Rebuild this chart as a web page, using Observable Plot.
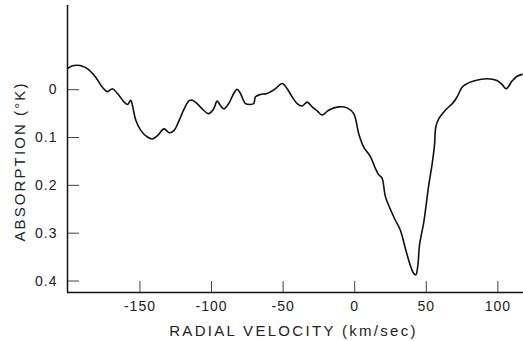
<!DOCTYPE html>
<html><head><meta charset="utf-8">
<script src="https://cdn.jsdelivr.net/npm/d3@7"></script>
<script src="https://cdn.jsdelivr.net/npm/@observablehq/plot@0.6"></script>
<style>
html,body{margin:0;padding:0;background:#fff;}
</style>
</head><body><div id="chart"></div>
<script>
const velocity = [-200.6,-197.1,-193.6,-190.2,-186.7,-180.9,-176.2,-172.7,-169.2,-165.7,-161.0,-158.7,-156.4,-155.2,-152.9,-149.4,-144.8,-141.3,-137.8,-133.1,-129.6,-126.1,-122.6,-119.1,-115.6,-113.3,-110.1,-106.6,-102.0,-98.5,-96.1,-93.8,-91.5,-88.0,-84.5,-82.1,-79.8,-76.3,-72.8,-70.5,-69.3,-65.9,-61.2,-55.4,-50.7,-47.2,-43.7,-40.2,-36.7,-33.2,-29.7,-26.3,-22.8,-18.2,-11.2,-5.3,-0.7,2.8,6.3,11.0,14.5,16.6,19.1,21.4,24.9,28.4,31.9,35.4,38.9,41.2,42.7,44.0,45.4,48.2,51.7,54.1,55.7,56.7,58.7,63.3,69.1,71.7,75.0,78.0,83.1,92.5,99.4,102.9,105.9,109.9,113.4,116.9];
const absorption = [-0.044,-0.050,-0.051,-0.049,-0.044,-0.026,-0.005,0.004,-0.002,0.008,0.026,0.031,0.022,0.033,0.064,0.085,0.099,0.103,0.096,0.082,0.090,0.085,0.064,0.040,0.023,0.022,0.029,0.040,0.050,0.040,0.024,0.033,0.040,0.029,0.008,-0.001,0.008,0.029,0.031,0.029,0.015,0.010,0.008,-0.002,-0.013,-0.002,0.015,0.029,0.034,0.026,0.036,0.044,0.053,0.043,0.036,0.038,0.050,0.092,0.120,0.140,0.165,0.177,0.185,0.223,0.250,0.273,0.294,0.332,0.368,0.384,0.387,0.370,0.322,0.278,0.200,0.155,0.117,0.077,0.061,0.043,0.026,0.014,-0.005,-0.012,-0.018,-0.023,-0.019,-0.011,-0.002,-0.018,-0.028,-0.032];
const xTicks = [-150,-100,-50,0,50,100];
const xTickLabels = ["-150","-100","-50","0","50","100"];
const yTicks = [0,0.1,0.2,0.3,0.4];
const yTickLabels = ["0","0.1","0.2","0.3","0.4"];
const xLabel = "RADIAL VELOCITY (km/sec)";
const yLabel = "ABSORPTION (°K)";

const data = velocity.map((v, i) => ({v, a: absorption[i]}));
const xDomain = [-200.6, 117.9];
const yDomain = [0.424, -0.176];
const tickLenX = 8.4;   // km/s, ~12px
const tickLenY = 0.023; // K, ~11px

const chart = Plot.plot({
  width: 523, height: 341,
  marginLeft: 67, marginRight: 0, marginTop: 5, marginBottom: 49,
  style: {fontFamily: "'Liberation Sans', Arial, sans-serif", background: "#fff", color: "#222", overflow: "visible"},
  x: {domain: xDomain},
  y: {domain: yDomain},
  marks: [
    Plot.axisX({ticks: xTicks, tickSize: 0, tickPadding: 9, fontSize: 14, label: null,
      tickFormat: d => xTickLabels[xTicks.indexOf(d)]}),
    Plot.axisY({ticks: yTicks, tickSize: 0, tickPadding: 10, fontSize: 14, label: null,
      tickFormat: d => yTickLabels[yTicks.indexOf(d)]}),
    Plot.ruleY(yTicks, {y: d => d, x1: xDomain[0], x2: xDomain[0] + tickLenX, stroke: "#444", strokeWidth: 1}),
    Plot.ruleX(xTicks, {x: d => d, y1: yDomain[0], y2: yDomain[0] - tickLenY, stroke: "#444", strokeWidth: 1}),
    Plot.ruleX([xDomain[0]], {stroke: "#111", strokeWidth: 1.5}),
    Plot.ruleY([yDomain[0]], {stroke: "#111", strokeWidth: 1.5}),
    Plot.line(data, {x: "v", y: "a", curve: "catmull-rom", stroke: "#111", strokeWidth: 1.6}),
    Plot.text([xLabel], {frameAnchor: "bottom", textAnchor: "middle", lineAnchor: "middle", dy: 39, dx: -2, fontSize: 15, fill: "#222"}),
    Plot.text([yLabel], {frameAnchor: "left", textAnchor: "middle", lineAnchor: "middle", rotate: -90, dx: -47, dy: 12.5, fontSize: 15, fill: "#222"})
  ]
});
document.getElementById("chart").appendChild(chart);
d3.select(chart).selectAll("text").each(function() {
  const t = this.textContent;
  if (t === xLabel) d3.select(this).attr("letter-spacing", "2.3px");
  else if (t === yLabel) d3.select(this).attr("letter-spacing", "2.1px");
  else d3.select(this).attr("letter-spacing", "1px");
});
</script>
</body></html>
